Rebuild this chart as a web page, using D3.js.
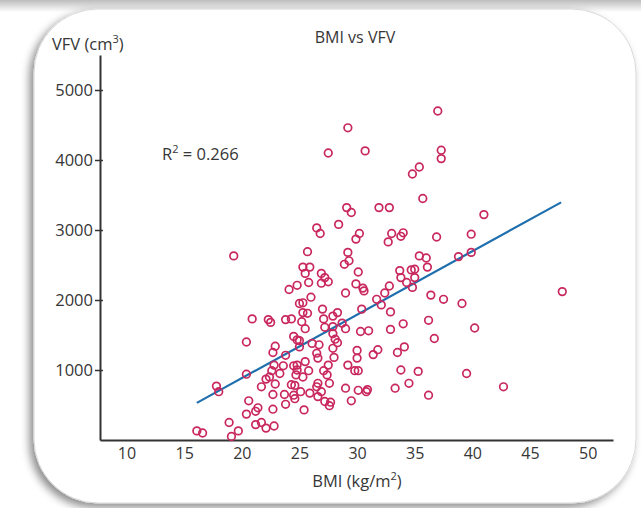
<!DOCTYPE html>
<html>
<head>
<meta charset="utf-8">
<script src="https://cdn.jsdelivr.net/npm/d3@7/dist/d3.min.js"></script>
<style>
  html, body { margin: 0; padding: 0; background: #fff; }
  svg { display: block; }
  text { font-family: "Open Sans", "Liberation Sans", Arial, sans-serif; fill: #363636; }
</style>
</head>
<body>
<svg id="chart" width="641" height="508"></svg>
<script>
// ---- data ----
const bmi = [
  19.3,20.9,22.3,22.5,20.4,22.9,22.7,20.4,22.8,23.6,22.6,23.3,22.4,22.1,21.7,22.9,17.8,18.0,22.7,23.7,
  20.6,23.8,21.4,21.2,20.4,22.7,18.9,21.2,21.7,22.1,22.8,19.7,19.1,16.1,16.6,23.8,23.8,24.1,29.9,32.7,
  25.7,29.2,29.3,28.9,25.3,25.9,25.5,26.9,27.2,30.1,25.8,26.9,27.5,29.9,30.5,30.6,32.8,24.8,29.0,26.0,
  25.0,25.3,32.4,31.7,32.1,27.0,30.4,32.9,25.3,25.7,28.3,27.9,24.3,27.1,25.2,28.7,25.5,29.0,27.2,27.9,
  30.3,31.0,32.9,24.5,27.9,28.1,24.8,25.0,28.3,26.1,26.7,25.0,27.9,26.5,30.0,31.8,31.4,26.6,28.0,30.0,
  24.5,24.8,25.5,24.8,25.8,27.5,29.2,27.1,27.4,24.7,25.3,29.8,30.1,24.3,24.6,26.6,26.5,27.6,25.1,25.9,
  26.9,29.0,30.1,30.9,30.8,24.5,24.6,26.6,27.2,27.7,27.6,29.5,25.4,35.4,36.0,38.8,39.9,33.7,33.8,34.7,
  35.0,35.0,36.1,34.3,34.8,36.4,37.5,39.1,47.8,36.2,40.2,34.0,36.7,34.1,33.5,33.8,35.3,39.5,34.5,33.3,
  36.2,42.7,37.0,37.3,37.3,35.4,34.8,35.7,41.0,32.8,33.0,33.8,34.0,36.9,39.9,29.2,27.5,30.7,29.1,29.5,
  31.9,26.5,26.8,28.4,30.2
];
const vfv = [
  2630,1730,1720,1680,1400,1340,1250,940,1070,1060,990,950,900,870,760,800,770,690,650,650,
  560,510,460,410,370,440,250,220,250,170,200,130,50,130,100,1720,1210,2150,2870,2830,
  2690,2680,2560,2510,2470,2470,2380,2380,2320,2400,2250,2240,2260,2230,2170,2130,2200,2210,2100,2040,
  1950,1960,2100,2010,1930,1870,1870,1830,1820,1810,1820,1770,1730,1730,1690,1670,1590,1590,1610,1620,
  1550,1560,1580,1480,1520,1440,1430,1420,1390,1380,1360,1330,1310,1240,1280,1290,1220,1170,1180,1170,
  1060,1070,1120,1000,990,1070,1070,990,930,930,900,990,990,790,780,810,760,810,690,670,
  690,740,710,720,690,640,590,620,550,540,490,560,430,2630,2600,2620,2680,2420,2320,2430,
  2440,2320,2470,2250,2180,2070,2010,1950,2120,1710,1600,1660,1450,1330,1250,1000,980,950,810,740,
  640,760,4700,4140,4020,3900,3800,3450,3220,3320,2950,2910,2960,2900,2940,4460,4100,4130,3320,3250,
  3320,3030,2950,3080,2950
];
// regression line end points
const fitBmi = [16.1, 47.7];
const fitVfv = [530, 3395];
const xTicks = [10, 15, 20, 25, 30, 35, 40, 45, 50];
const yTicks = [1000, 2000, 3000, 4000, 5000];
const titleText = "BMI vs VFV";
const r2Text = "0.266";

// ---- drawing ----
const svg = d3.select("#chart");
const defs = svg.append("defs");

const f = defs.append("filter").attr("id", "shadow")
  .attr("x", "-10%").attr("y", "-10%").attr("width", "120%").attr("height", "120%");
f.append("feDropShadow").attr("dx", -4).attr("dy", 4).attr("stdDeviation", 4)
  .attr("flood-color", "#000").attr("flood-opacity", 0.45);

const g1 = defs.append("linearGradient").attr("id", "topband").attr("x1", 0).attr("y1", 0).attr("x2", 0).attr("y2", 1);
g1.append("stop").attr("offset", "0%").attr("stop-color", "#bdbdbd");
g1.append("stop").attr("offset", "100%").attr("stop-color", "#ffffff");

svg.append("rect").attr("x", 0).attr("y", 0).attr("width", 641).attr("height", 508).attr("fill", "#fff");
svg.append("rect").attr("x", 0).attr("y", 0).attr("width", 641).attr("height", 12).attr("fill", "url(#topband)");

// card
svg.append("rect")
  .attr("x", 34).attr("y", 9).attr("width", 602).attr("height", 494)
  .attr("rx", 64).attr("ry", 64)
  .attr("fill", "#fff").attr("stroke", "#d8d8d8").attr("stroke-width", 1)
  .attr("filter", "url(#shadow)");

const x = d3.scaleLinear().domain([7.7, 52.2]).range([100, 613]);
const y = d3.scaleLinear().domain([0, 5500]).range([440, 55]);
const fs = "16.5px";

// x axis
const xAxis = svg.append("g").attr("transform", `translate(0,${y(0)})`)
  .call(d3.axisBottom(x).tickValues(xTicks).tickSize(0).tickSizeOuter(0).tickPadding(8));
xAxis.select(".domain").attr("stroke", "#333").attr("stroke-width", 2);
xAxis.selectAll(".tick text").style("font-size", "16px").attr("fill", "#363636");

// y axis
const yAxis = svg.append("g").attr("transform", `translate(${x(7.7)},0)`)
  .call(d3.axisLeft(y).tickValues(yTicks).tickFormat(d3.format("d")).tickSize(5).tickSizeOuter(0).tickPadding(2));
yAxis.select(".domain").attr("stroke", "#333").attr("stroke-width", 2);
yAxis.selectAll(".tick line").attr("x1", 3).attr("stroke", "#333").attr("stroke-width", 1.5);
yAxis.selectAll(".tick text").style("font-size", fs).attr("fill", "#363636");
yAxis.selectAll("text").attr("font-family", null);
xAxis.selectAll("text").attr("font-family", null);

// fit line
svg.append("line")
  .attr("x1", x(fitBmi[0])).attr("y1", y(fitVfv[0]))
  .attr("x2", x(fitBmi[1])).attr("y2", y(fitVfv[1]))
  .attr("stroke", "#1f6fae").attr("stroke-width", 2.2);

// points
svg.append("g").selectAll("circle")
  .data(bmi.map((b, i) => [b, vfv[i]]))
  .join("circle")
  .attr("cx", d => x(d[0])).attr("cy", d => y(d[1]))
  .attr("r", 3.8)
  .attr("fill", "none").attr("stroke", "#c9285e").attr("stroke-width", 1.7);

// title
svg.append("text").attr("x", 355).attr("y", 43).attr("text-anchor", "middle")
  .style("font-size", "16px").text(titleText);

// y label
const yl = svg.append("text").attr("x", 52).attr("y", 50).style("font-size", fs);
yl.append("tspan").text("VFV (cm");
yl.append("tspan").attr("dy", -7).style("font-size", "11px").text("3");
yl.append("tspan").attr("dy", 7).text(")");

// x label
const xl = svg.append("text").attr("x", 357).attr("y", 487).attr("text-anchor", "middle").style("font-size", fs);
xl.append("tspan").text("BMI (kg/m");
xl.append("tspan").attr("dy", -7).style("font-size", "11px").text("2");
xl.append("tspan").attr("dy", 7).text(")");

// R2 label
const rl = svg.append("text").attr("x", 162).attr("y", 160).style("font-size", fs);
rl.append("tspan").text("R");
rl.append("tspan").attr("dy", -7).style("font-size", "11px").text("2");
rl.append("tspan").attr("dy", 7).text(" = " + r2Text);
</script>
</body>
</html>
